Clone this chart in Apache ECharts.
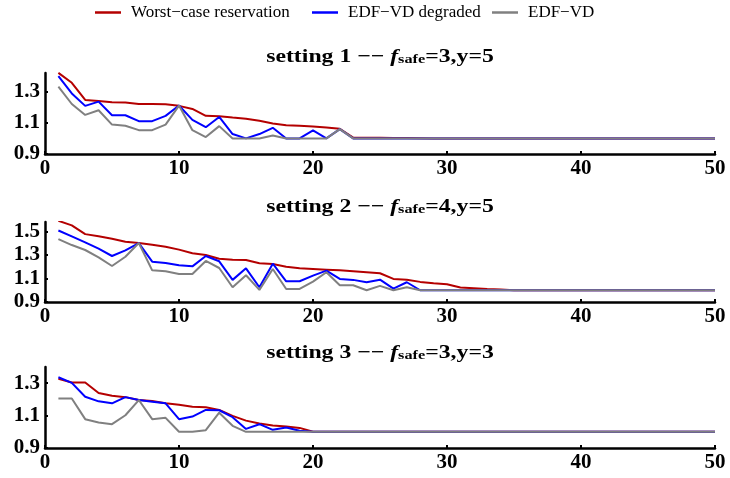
<!DOCTYPE html>
<html>
<head>
<meta charset="utf-8">
<script src="https://cdn.jsdelivr.net/npm/echarts@6/dist/echarts.min.js"></script>
<style>
  html, body { margin: 0; padding: 0; background: #fff; }
  #chart { width: 730px; height: 478px; }
</style>
</head>
<body>
<div id="chart"></div>
<script>
// 任务数 (x)
const xs = [1,2,3,4,5,6,7,8,9,10,11,12,13,14,15,16,17,18,19,20,21,22,23,24,25,
  26,27,28,29,30,31,32,33,34,35,36,37,38,39,40,41,42,43,44,45,46,47,48,49,50]

const seriesNames = ['Worst\u2212case reservation', 'EDF\u2212VD degraded', 'EDF\u2212VD']
const seriesColors = ['#b40000', '#0000ff', '#808080']

// setting 1
const worst1 = [1.421,1.357,1.247,1.24,1.232,1.23,1.221,1.221,1.219,1.209,1.189,1.145,1.143,1.134,1.126,
  1.113,1.096,1.085,1.081,1.077,1.07,1.062,1.006,1.005,1.004,1.003,1.002,1.001,1.0,1.0,
  1,1,1,1,1,1,1,1,1,1,1,1,1,1,1,1,1,1,1,1]
const degraded1 = [1.40,1.289,1.209,1.236,1.149,1.149,1.111,1.111,1.145,1.211,1.119,1.072,1.138,1.028,1.0,
  1.028,1.068,1.0,1.0,1.051,1.0,1.06,1,1,1,1,1,1,1,1,
  1,1,1,1,1,1,1,1,1,1,1,1,1,1,1,1,1,1,1,1]
const edfvd1 = [1.332,1.221,1.151,1.181,1.089,1.081,1.053,1.053,1.089,1.211,1.053,1.009,1.079,1.0,1.0,
  1.0,1.019,1.0,1.0,1.0,1.0,1.06,1,1,1,1,1,1,1,1,
  1,1,1,1,1,1,1,1,1,1,1,1,1,1,1,1,1,1,1,1]

// setting 2
const worst2 = [1.59,1.551,1.477,1.458,1.438,1.412,1.401,1.387,1.37,1.345,1.314,1.299,1.268,1.26,1.257,
  1.229,1.223,1.2,1.186,1.181,1.175,1.169,1.161,1.153,1.144,1.096,1.09,1.071,1.059,1.051,
  1.023,1.017,1.011,1.006,1,1,1,1,1,1,1,1,1,1,1,1,1,1,1,1]
const degraded2 = [1.508,1.458,1.407,1.353,1.291,1.339,1.401,1.243,1.232,1.212,1.203,1.291,1.246,1.088,1.186,
  1.025,1.226,1.076,1.076,1.124,1.167,1.096,1.088,1.068,1.09,1.014,1.068,1.0,1,1,
  1,1,1,1,1,1,1,1,1,1,1,1,1,1,1,1,1,1,1,1]
const edfvd2 = [1.435,1.384,1.342,1.28,1.206,1.285,1.401,1.169,1.161,1.138,1.138,1.249,1.189,1.025,1.127,
  1.003,1.181,1.011,1.011,1.073,1.153,1.042,1.042,1.0,1.037,1.0,1.025,1.0,1,1,
  1,1,1,1,1,1,1,1,1,1,1,1,1,1,1,1,1,1,1,1]

// setting 3
const worst3 = [1.327,1.304,1.304,1.239,1.222,1.214,1.196,1.19,1.176,1.167,1.155,1.151,1.135,1.098,1.069,
  1.051,1.039,1.033,1.024,1.0,1,1,1,1,1,1,1,1,1,1,
  1,1,1,1,1,1,1,1,1,1,1,1,1,1,1,1,1,1,1,1]
const degraded3 = [1.337,1.302,1.216,1.188,1.176,1.214,1.196,1.186,1.176,1.078,1.094,1.135,1.133,1.09,1.018,
  1.047,1.012,1.027,1.006,1.0,1,1,1,1,1,1,1,1,1,1,
  1,1,1,1,1,1,1,1,1,1,1,1,1,1,1,1,1,1,1,1]
const edfvd3 = [1.206,1.206,1.078,1.057,1.047,1.102,1.196,1.078,1.086,1.0,1.0,1.01,1.118,1.037,1.0,
  1,1,1,1,1,1,1,1,1,1,1,1,1,1,1,1,1,1,1,1,1,1,1,1,1,
  1,1,1,1,1,1,1,1,1,1]

const yTops = [1.42, 1.58, 1.40]
const titles = [['1', '3', '5'], ['2', '4', '5'], ['3', '3', '3']]
const panels = [[worst1, degraded1, edfvd1], [worst2, degraded2, edfvd2], [worst3, degraded3, edfvd3]]

const serif = "'Liberation Serif', 'Times New Roman', serif"
const gridTops = [73, 222, 367]
const gridHeights = [81, 80, 81]
const titleYs = [57, 207, 353]
const legendLefts = [95, 312, 492]

const chart = echarts.init(document.getElementById('chart'))

const grid = gridTops.map((top, i) => ({ left: 45, right: 15, top, height: gridHeights[i] }))

const xAxis = gridTops.map((t, i) => ({
  type: 'value', gridIndex: i, min: 0, max: 50, interval: 10,
  axisLine: { lineStyle: { color: '#000', width: 2.5 } },
  axisTick: { inside: true, length: 3, lineStyle: { color: '#000', width: 2 } },
  axisLabel: { color: '#000', fontFamily: serif, fontWeight: 'bold', fontSize: 21, margin: 4 },
  splitLine: { show: false }
}))

const yAxis = gridTops.map((t, i) => ({
  type: 'value', gridIndex: i, min: 0.9, max: yTops[i], interval: 0.2,
  axisLine: { show: true, lineStyle: { color: '#000', width: 2.5 } },
  axisTick: { show: true, inside: true, length: 3, lineStyle: { color: '#000', width: 2 } },
  axisLabel: {
    color: '#000', fontFamily: serif, fontWeight: 'bold', fontSize: 21, margin: 5,
    showMaxLabel: false,
    formatter: v => v.toFixed(1)
  },
  splitLine: { show: false }
}))

const series = []
panels.forEach((arrs, p) => {
  arrs.forEach((arr, k) => {
    series.push({
      name: seriesNames[k],
      type: 'line',
      xAxisIndex: p, yAxisIndex: p,
      showSymbol: false,
      animation: false,
      lineStyle: { color: seriesColors[k], width: 2 },
      itemStyle: { color: seriesColors[k] },
      data: xs.map((x, j) => [x, arr[j]])
    })
  })
})

// 标题用 graphic 画，横向略拉伸
const graphic = titles.map((t, i) => ({
  type: 'text',
  x: 380, y: titleYs[i],
  scaleX: 1.25,
  style: {
    text: `{a|setting ${t[0]} \u2212\u2212 }{f|f}{s|safe}{a|=${t[1]},y=${t[2]}}`,
    align: 'center', verticalAlign: 'middle',
    rich: {
      a: { fontFamily: serif, fontWeight: 'bold', fontSize: 19, fill: '#000' },
      f: { fontFamily: serif, fontWeight: 'bold', fontStyle: 'italic', fontSize: 19, fill: '#000' },
      s: { fontFamily: serif, fontWeight: 'bold', fontSize: 13, fill: '#000', verticalAlign: 'bottom' }
    }
  }
}))

// 三个图例分开放，间距照原图
const legend = seriesNames.map((name, i) => ({
  data: [name],
  left: legendLefts[i], top: 4,
  padding: 0,
  icon: 'rect',
  itemWidth: 26, itemHeight: 2.5,
  textStyle: { fontFamily: serif, fontSize: 17, color: '#000', padding: [0, 0, 0, 5] }
}))

chart.setOption({
  backgroundColor: '#fff',
  animation: false,
  legend, grid, xAxis, yAxis, series, graphic
})
</script>
</body>
</html>
